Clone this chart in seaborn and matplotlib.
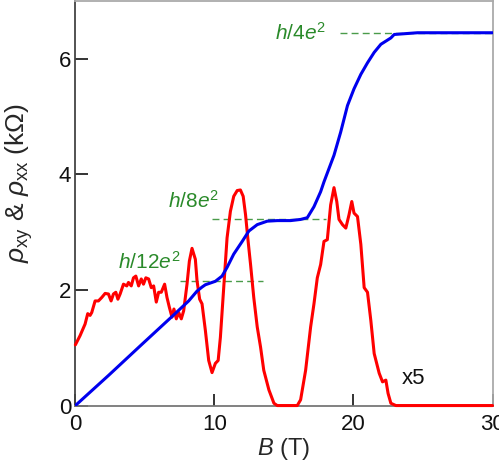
import matplotlib
matplotlib.use("Agg")
import matplotlib.pyplot as plt
import seaborn as sns
import pandas as pd

# Hall resistivity rho_xy (kOhm) versus field B (T)
b_xy = [0, 2.38, 4.79, 6.95, 8.15, 8.75, 9.11, 9.35, 10.07, 10.55, 10.91, 11.39,
        12.00, 12.48, 13.08, 13.80, 14.52, 15.48, 16.20, 16.68, 17.16, 17.64, 17.88,
        18.60, 19.08, 19.57, 20.04, 20.53, 21.01, 21.49, 21.97, 22.69, 22.93, 24.61, 30]
rho_xy = [0, 0.52, 1.06, 1.54, 1.81, 1.98, 2.05, 2.09, 2.15, 2.24, 2.39, 2.62,
          2.84, 3.02, 3.13, 3.19, 3.20, 3.20, 3.22, 3.25, 3.44, 3.70, 3.87,
          4.33, 4.73, 5.19, 5.48, 5.73, 5.93, 6.11, 6.25, 6.36, 6.42, 6.45, 6.45]

# Longitudinal resistivity rho_xx (x5, kOhm) versus field B (T)
b_xx = [0, 0.34, 0.70, 0.89, 1.06, 1.18, 1.42, 1.66, 1.90, 2.14, 2.38, 2.57, 2.74,
        2.91, 3.06, 3.22, 3.46, 3.70, 3.82, 4.02, 4.18, 4.35, 4.55, 4.74, 4.90, 5.07,
        5.27, 5.46, 5.63, 5.82, 5.99, 6.18, 6.42, 6.59, 6.76, 6.95, 7.09, 7.26, 7.43,
        7.62, 7.79, 8.03, 8.20, 8.39, 8.63, 8.75, 8.94, 9.11, 9.35, 9.59, 9.83, 10.07,
        10.27, 10.43, 10.67, 10.91, 11.15, 11.39, 11.64, 11.87, 12.07, 12.24, 12.40,
        12.60, 12.83, 13.08, 13.32, 13.55, 13.92, 14.28, 14.52, 15.96, 16.20, 16.56,
        16.92, 17.16, 17.40, 17.64, 17.88, 18.12, 18.36, 18.60, 18.80, 18.96, 19.21,
        19.45, 19.68, 19.88, 20.04, 20.29, 20.53, 20.77, 21.01, 21.25, 21.49, 21.85,
        22.09, 22.33, 22.49, 22.69, 23.05, 30]
rho_xx = [1.05, 1.21, 1.41, 1.59, 1.56, 1.61, 1.81, 1.81, 1.87, 1.94, 1.93, 1.81, 1.93,
          1.96, 1.84, 1.93, 2.10, 2.07, 2.13, 2.07, 2.21, 2.24, 2.07, 2.19, 2.10, 2.21,
          2.19, 2.04, 2.07, 1.79, 1.96, 1.96, 2.10, 1.87, 1.70, 1.53, 1.67, 1.50, 1.61,
          1.50, 1.64, 2.10, 2.50, 2.72, 2.53, 2.16, 1.84, 1.76, 1.30, 0.78, 0.57, 0.73,
          0.78, 1.18, 2.04, 2.90, 3.36, 3.62, 3.72, 3.73, 3.62, 3.30, 2.90,
          2.44, 1.87, 1.36, 1.01, 0.61, 0.27, 0.04, 0.0, 0.0, 0.10, 0.61,
          1.36, 1.76, 2.21, 2.44, 2.84, 2.87, 3.47, 3.77, 3.53, 3.22, 3.13,
          3.07, 3.30, 3.53, 3.33, 3.27, 2.79, 2.04, 1.96, 1.47, 0.90, 0.56,
          0.41, 0.44, 0.21, 0.04, 0.0, 0.0]

# Quantized plateau levels h/(nu e^2) in kOhm
h_over_e2 = 25.8128
plateau_nu = [4, 8, 12]
plateau_labels = ["$h$/4$e^2$", "$h$/8$e^2$", "$h$/12$e^2$"]
plateau_spans = [(19.0, 30.0), (9.8, 18.0), (7.5, 13.5)]
label_pos = [(18.0, 6.45), (10.3, 3.55), (7.55, 2.49)]

xy_df = pd.DataFrame({"B": b_xy, "rho": rho_xy})
xx_df = pd.DataFrame({"B": b_xx, "rho": rho_xx})

sns.set_style("ticks")
plt.rcParams["font.family"] = ["Liberation Sans", "DejaVu Sans"]
plt.rcParams["mathtext.fontset"] = "custom"
plt.rcParams["mathtext.rm"] = "Liberation Sans"
plt.rcParams["mathtext.it"] = "Liberation Sans:italic"

fig = plt.figure(figsize=(4.99, 4.76), dpi=100)
ax = fig.add_axes([0.151, 0.148, 0.836, 0.85])

green = "#2a8a2a"
for nu, lab, (x0, x1), (tx, ty) in zip(plateau_nu, plateau_labels, plateau_spans, label_pos):
    level = h_over_e2 / nu
    ax.plot([x0, x1], [level, level], color=green, lw=1.0, ls=(0, (5, 3)), alpha=0.85, zorder=1)
    ax.text(tx, ty, lab, color=green, fontsize=15, ha="right", va="center")

sns.lineplot(data=xx_df, x="B", y="rho", ax=ax, color="#ff0000", lw=2.2, sort=False,
             estimator=None, zorder=3, clip_on=False)
sns.lineplot(data=xy_df, x="B", y="rho", ax=ax, color="#0000ee", lw=2.2, sort=False,
             estimator=None, zorder=4)

ax.text(23.5, 0.46, "x5", fontsize=16, ha="left", va="center", color="#111111")

ax.set_xlim(0, 30)
ax.set_ylim(0, 7)
ax.set_xticks([0, 10, 20, 30])
ax.set_yticks([0, 2, 4, 6])
ax.tick_params(direction="in", length=9, width=1.2, labelsize=16, colors="#111111")
ax.tick_params(axis="x", pad=6)
ax.tick_params(axis="y", pad=3)
ax.set_xlabel("$B$ (T)", fontsize=17, labelpad=1)
ax.set_ylabel(r"$\rho_{\mathrm{xy}}$ & $\rho_{\mathrm{xx}}$ (k$\Omega$)", fontsize=19)
ax.yaxis.set_label_coords(-0.097, 0.55)

ax.spines["left"].set_color("#444444")
ax.spines["bottom"].set_color("#777777")
ax.spines["top"].set_color("#aaaaaa")
ax.spines["right"].set_color("#aaaaaa")
for s in ax.spines.values():
    s.set_visible(True)
    s.set_linewidth(1.3)

fig.savefig("out.png", dpi=100)
